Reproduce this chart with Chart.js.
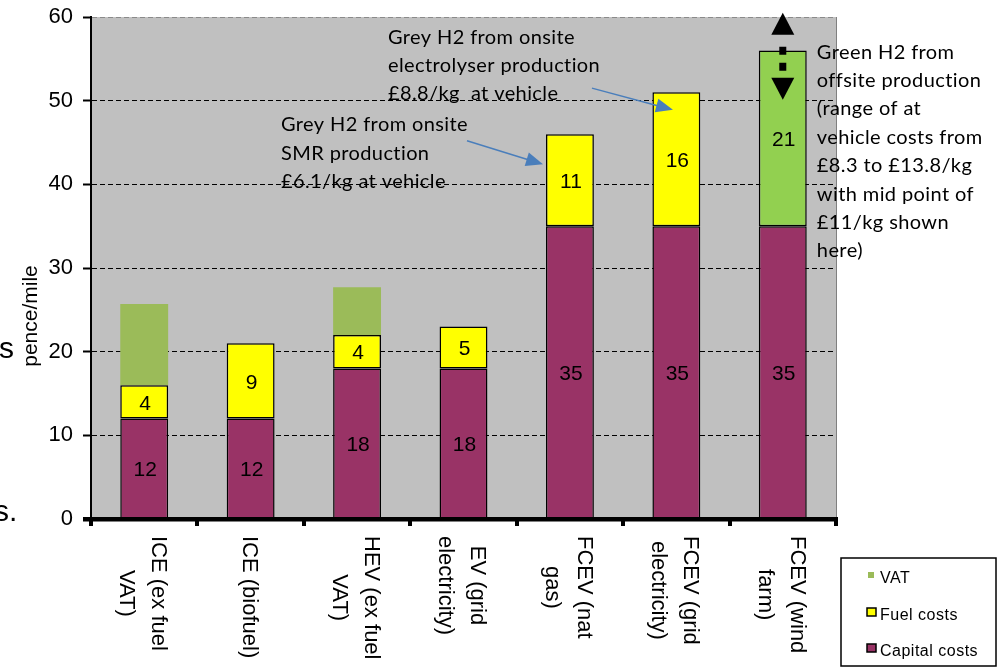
<!DOCTYPE html>
<html>
<head>
<meta charset="utf-8">
<script src="https://cdn.jsdelivr.net/npm/chart.js@4/dist/chart.umd.min.js"></script>
<style>
  html, body { margin: 0; padding: 0; background: #fff; }
  #wrap { position: relative; width: 1003px; height: 672px; }
</style>
</head>
<body>
<div id="wrap"><canvas id="costChart" width="1003" height="672"></canvas></div>
<script>
// vehicle types (one entry per label line)
const categories = [
  ['ICE (ex fuel', 'VAT)'],
  ['ICE (biofuel)'],
  ['HEV (ex fuel', 'VAT)'],
  ['EV (grid', 'electricity)'],
  ['FCEV (nat', 'gas)'],
  ['FCEV (grid', 'electricity)'],
  ['FCEV (wind', 'farm)']
];
const capitalCosts = [12, 12, 18, 18, 35, 35, 35]; // pence/mile
const fuelCosts = [4, 9, 4, 5, 11, 16, 21];
const vatCosts = [9.7, null, 5.7, null, null, null, null];
const yTicks = [0, 10, 20, 30, 40, 50, 60];
// at-vehicle cost range for wind farm H2 (pence/mile)
const h2RangeHigh = 60.5, h2RangeLow = 50.1;

const FONT = '"Liberation Sans", Arial, sans-serif';
const NOTE_FONT = '20px Lato, "Noto Sans", sans-serif';
const fuelColors = categories.map((c, i) => i === 6 ? '#92D050' : '#FFFF00');

// callouts, u = position in category widths from the left axis, v = pence/mile
const notes = [
  { u: 1.785, v: 47.1, lines: ['Grey H2 from onsite', 'SMR production', '£6.1/kg at vehicle'] },
  { u: 2.79, v: 57.6, lines: ['Grey H2 from onsite', 'electrolyser production', '£8.8/kg  at vehicle'] },
  { u: 6.82, v: 55.8, lines: ['Green H2 from', 'offsite production', '(range of at', 'vehicle costs from',
    '£8.3 to £13.8/kg', 'with mid point of', '£11/kg shown', 'here)'] }
];
const pointers = [
  { from: [3.533, 45.2], to: [4.247, 42.4] },
  { from: [4.707, 51.5], to: [5.468, 48.9] }
];

const plotBackground = {
  id: 'plotBackground',
  beforeDraw(chart) {
    const { ctx, chartArea: a } = chart;
    ctx.save();
    ctx.fillStyle = '#C0C0C0';
    ctx.fillRect(a.left, a.top, a.width, a.height);
    ctx.strokeStyle = '#808080';
    ctx.lineWidth = 1;
    ctx.beginPath();
    ctx.moveTo(a.right + 0.5, a.top);
    ctx.lineTo(a.right + 0.5, a.bottom);
    ctx.stroke();
    ctx.restore();
  }
};

// numbers inside capital and fuel segments
const segmentLabels = {
  id: 'segmentLabels',
  afterDatasetsDraw(chart) {
    const { ctx } = chart;
    ctx.save();
    ctx.font = '21px ' + FONT;
    ctx.fillStyle = '#000';
    ctx.textAlign = 'center';
    ctx.textBaseline = 'middle';
    [0, 1].forEach(di => {
      chart.getDatasetMeta(di).data.forEach((bar, i) => {
        const v = chart.data.datasets[di].data[i];
        if (v == null) return;
        ctx.fillText(String(v), bar.x + 1, (bar.y + bar.base) / 2 + 2);
      });
    });
    ctx.restore();
  }
};

// thick category axis, ticks between groups, rotated labels
const categoryAxis = {
  id: 'categoryAxis',
  afterDatasetsDraw(chart) {
    const { ctx, chartArea: a, scales: { x } } = chart;
    const catW = a.width / categories.length;
    ctx.save();
    ctx.fillStyle = '#000';
    ctx.fillRect(a.left - 8, a.bottom - 2, a.width + 10, 4.5);
    for (let k = 0; k <= categories.length; k++) {
      ctx.fillRect(Math.round(a.left + k * catW) - 2, a.bottom, 4, 7);
    }
    ctx.font = '22px ' + FONT;
    ctx.textAlign = 'center';
    ctx.textBaseline = 'middle';
    const lh = 32, top = a.bottom + 17;
    categories.forEach((lines, i) => {
      const cx = x.getPixelForValue(i) - 2;
      const maxW = Math.max(...lines.map(l => ctx.measureText(l).width));
      ctx.save();
      ctx.translate(cx, top);
      ctx.rotate(Math.PI / 2);
      lines.forEach((l, k) => ctx.fillText(l, maxW / 2, k * lh - (lines.length - 1) * lh / 2));
      ctx.restore();
    });
    ctx.restore();
  }
};

function arrowHead(ctx, x1, y1, x2, y2, len, half) {
  const ang = Math.atan2(y2 - y1, x2 - x1);
  ctx.beginPath();
  ctx.moveTo(x2, y2);
  ctx.lineTo(x2 - len * Math.cos(ang) + half * Math.sin(ang), y2 - len * Math.sin(ang) - half * Math.cos(ang));
  ctx.lineTo(x2 - len * Math.cos(ang) - half * Math.sin(ang), y2 - len * Math.sin(ang) + half * Math.cos(ang));
  ctx.closePath();
  ctx.fill();
}

const callouts = {
  id: 'callouts',
  afterDraw(chart) {
    const { ctx, chartArea: a, scales: { x, y } } = chart;
    const catW = a.width / categories.length;
    const px = u => a.left + u * catW;
    ctx.save();

    // notes
    ctx.font = NOTE_FONT;
    ctx.fillStyle = '#000';
    ctx.textAlign = 'left';
    ctx.textBaseline = 'middle';
    ctx.letterSpacing = '0.4px';
    notes.forEach(n => {
      n.lines.forEach((l, k) => ctx.fillText(l, px(n.u), y.getPixelForValue(n.v) + k * 28.4));
    });

    // blue pointers
    ctx.strokeStyle = '#4A7EBB';
    ctx.fillStyle = '#4A7EBB';
    ctx.lineWidth = 1.5;
    pointers.forEach(p => {
      const x1 = px(p.from[0]), y1 = y.getPixelForValue(p.from[1]);
      const x2 = px(p.to[0]), y2 = y.getPixelForValue(p.to[1]);
      const ang = Math.atan2(y2 - y1, x2 - x1);
      ctx.beginPath();
      ctx.moveTo(x1, y1);
      ctx.lineTo(x2 - 12 * Math.cos(ang), y2 - 12 * Math.sin(ang));
      ctx.stroke();
      arrowHead(ctx, x1, y1, x2, y2, 17, 7);
    });

    // dashed range arrow on the wind farm bar
    const cx = x.getPixelForValue(6);
    const yHi = y.getPixelForValue(h2RangeHigh), yLo = y.getPixelForValue(h2RangeLow);
    const head = 22;
    ctx.fillStyle = '#000';
    arrowHead(ctx, cx, yHi + head, cx, yHi, head, 11.5);
    arrowHead(ctx, cx, yLo - head, cx, yLo, head, 11.5);
    ctx.strokeStyle = '#000';
    ctx.lineWidth = 7;
    ctx.setLineDash([8, 8]);
    ctx.beginPath();
    ctx.moveTo(cx, yHi + head + 12);
    ctx.lineTo(cx, yLo - head - 7);
    ctx.stroke();
    ctx.setLineDash([]);

    // y axis title and cut-off page text on the left
    ctx.letterSpacing = '0px';
    ctx.font = '21px ' + FONT;
    ctx.textAlign = 'center';
    ctx.save();
    ctx.translate(31, (a.top + a.bottom) / 2 + 48);
    ctx.rotate(-Math.PI / 2);
    ctx.fillText('pence/mile', 0, 0);
    ctx.restore();
    ctx.font = '30px ' + FONT;
    ctx.textAlign = 'left';
    ctx.fillText('s', -1, 350);
    ctx.fillText('s.', -6, 513);
    ctx.restore();
  }
};

// boxed legend, VAT listed first
const boxLegend = {
  id: 'boxLegend',
  afterDraw(chart) {
    const { ctx } = chart;
    const ds = chart.data.datasets;
    const bx = 841, by = 558, bw = 155, bh = 108;
    ctx.save();
    ctx.strokeStyle = '#000';
    ctx.lineWidth = 1.5;
    ctx.strokeRect(bx, by, bw, bh);
    ctx.font = '16px ' + FONT;
    ctx.textBaseline = 'middle';
    ctx.letterSpacing = '0.5px';
    const rows = [
      { ds: ds[2], y: 579, border: false },
      { ds: ds[1], y: 616, border: true },
      { ds: ds[0], y: 652, border: true }
    ];
    rows.forEach(r => {
      const c = Array.isArray(r.ds.backgroundColor) ? r.ds.backgroundColor[0] : r.ds.backgroundColor;
      ctx.fillStyle = c;
      if (r.border) {
        ctx.fillRect(867, r.y - 8, 9, 8);
        ctx.lineWidth = 1.5;
        ctx.strokeRect(867, r.y - 8, 9, 8);
      } else {
        ctx.fillRect(868, r.y - 7, 6, 6);
      }
      ctx.fillStyle = '#000';
      ctx.fillText(r.ds.label, 880, r.y);
    });
    ctx.restore();
  }
};

const chart = new Chart(document.getElementById('costChart'), {
  type: 'bar',
  data: {
    labels: categories.map(l => l.join(' ')),
    datasets: [
      { label: 'Capital costs', data: capitalCosts, backgroundColor: '#993366',
        borderColor: '#000', borderWidth: 1.5, borderSkipped: false },
      { label: 'Fuel costs', data: fuelCosts, backgroundColor: fuelColors,
        borderColor: '#000', borderWidth: 1.5, borderSkipped: false },
      { label: 'VAT', data: vatCosts, backgroundColor: '#9BBB59', borderWidth: 0 }
    ]
  },
  options: {
    responsive: false,
    animation: false,
    devicePixelRatio: 1,
    layout: { padding: { top: 17, right: 167, left: 0, bottom: 0 } },
    datasets: { bar: { categoryPercentage: 1, barPercentage: 0.45 } },
    plugins: { legend: { display: false }, tooltip: { enabled: false } },
    scales: {
      x: {
        stacked: true,
        ticks: { display: false },
        grid: { display: false },
        border: { display: false },
        afterFit: s => { s.height = 153; }
      },
      y: {
        stacked: true,
        min: 0,
        max: 60,
        afterBuildTicks: s => { s.ticks = yTicks.map(v => ({ value: v })); },
        ticks: { color: '#000', font: { family: FONT, size: 22 }, padding: 10 },
        grid: {
          color: c => c.tick && c.tick.value === 60 ? '#8a8a8a' : '#000',
          lineWidth: 1, tickLength: 8, tickColor: '#000', tickWidth: 2, tickBorderDash: []
        },
        border: { display: true, color: '#000', width: 2, dash: [5, 3] },
        afterFit: s => { s.width = 91; s.paddingTop = 0; s.paddingBottom = 0; }
      }
    }
  },
  plugins: [plotBackground, segmentLabels, categoryAxis, callouts, boxLegend]
});
</script>
</body>
</html>
